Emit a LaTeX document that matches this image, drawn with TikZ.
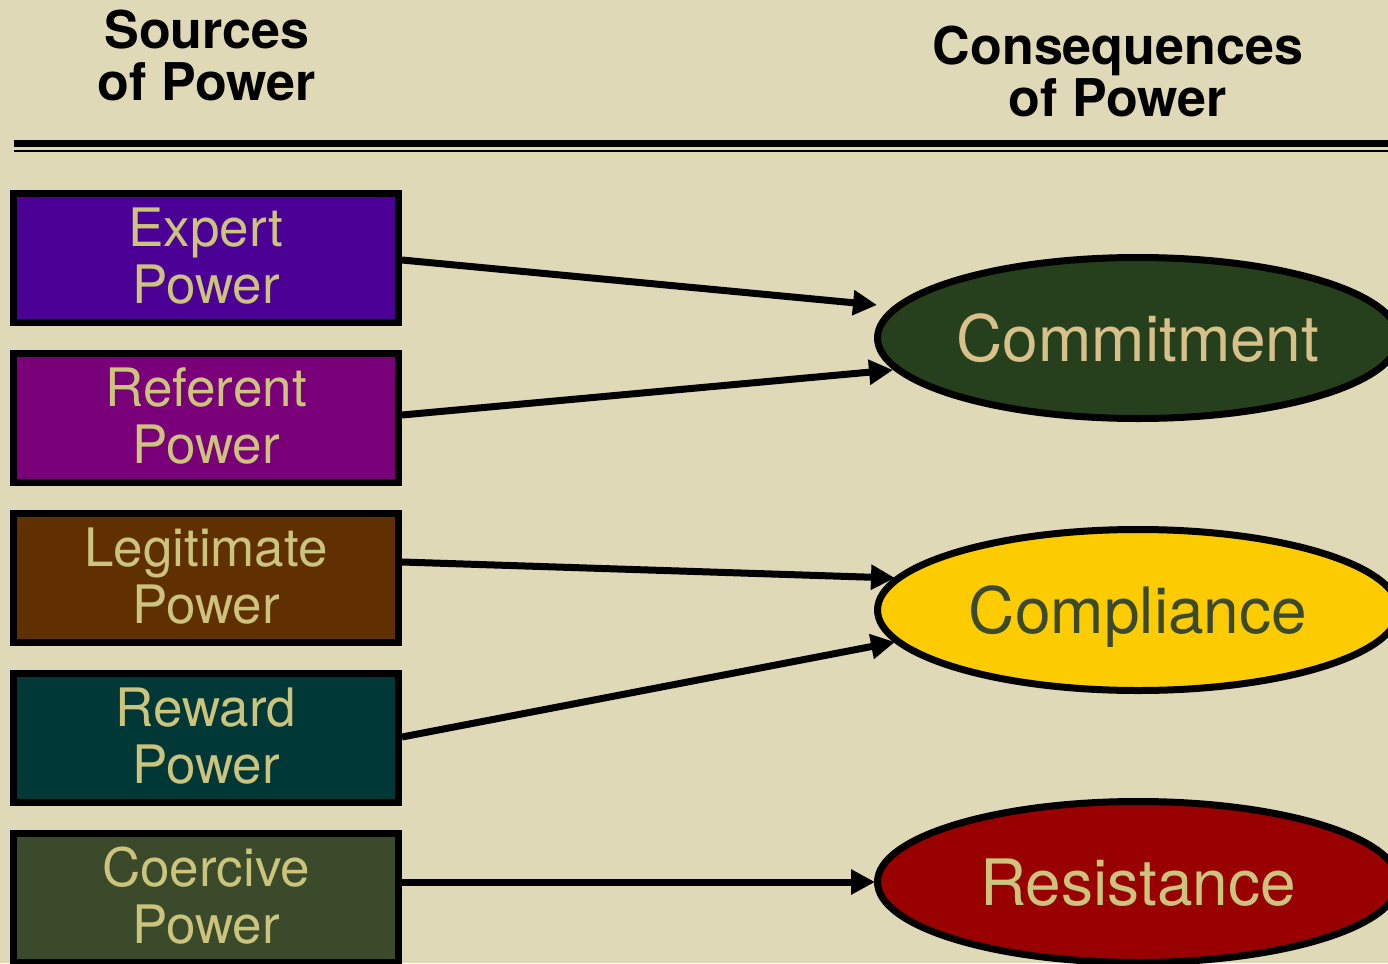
\documentclass[tikz,border=0pt]{standalone}
\usepackage{fontspec}
\setmainfont{TeX Gyre Heros}
\usetikzlibrary{shapes.geometric,arrows.meta,calc}

\definecolor{bgc}{HTML}{DFD9B7}
\definecolor{expertc}{HTML}{4B0096}
\definecolor{referentc}{HTML}{7A007A}
\definecolor{legitc}{HTML}{603000}
\definecolor{rewardc}{HTML}{003838}
\definecolor{coercivec}{HTML}{3A4A2A}
\definecolor{commitc}{HTML}{26401E}
\definecolor{complyc}{HTML}{FCCC00}
\definecolor{resistc}{HTML}{990000}
\definecolor{boxtext}{HTML}{CCC47C}
\definecolor{commtext}{HTML}{D8C08A}
\definecolor{darktext}{HTML}{3A4A2A}

\tikzset{
  title/.style={align=center, inner sep=0pt, text=black,
    font=\bfseries\fontsize{52}{52}\selectfont,
    text height=89pt, text depth=0pt},
  srcbox/.style={draw=black, line width=7pt, rectangle,
    minimum width=385pt, minimum height=129pt, inner sep=0pt,
    align=center, text=boxtext,
    font=\fontsize{53}{57}\selectfont,
    text height=95pt, text depth=4pt},
  consbox/.style={draw=black, line width=7pt, ellipse,
    minimum width=521pt, minimum height=161pt, inner sep=0pt,
    font=\fontsize{64}{64}\selectfont,
    text height=46pt, text depth=0pt},
  arr/.style={line width=7pt, -{Triangle[length=24pt,width=24pt]}},
}

\begin{document}
\begin{tikzpicture}[x=1pt, y=-1pt]
  % page and background
  \fill[bgc] (0,0) rectangle (1388,963);
  \useasboundingbox (0,0) rectangle (1388,963);

  % headings
  \node[title] (srchead) at (207,56) {Sources\\of Power};
  \node[title] (conshead) at (1118,72.5) {Consequences\\of Power};

  % double rule under the headings
  \coordinate (ruleA) at (14,143.5);
  \coordinate (ruleB) at (1388,143.5);
  \coordinate (ruleC) at (14,150.6);
  \coordinate (ruleD) at (1388,150.6);
  \draw[line width=7pt] (ruleA) -- (ruleB);
  \draw[line width=2.2pt] (ruleC) -- (ruleD);

  % sources of power
  \node[srcbox, fill=expertc]   (expert)   at (206,258) {Expert\\Power};
  \node[srcbox, fill=referentc] (referent) at (206,418) {Referent\\Power};
  \node[srcbox, fill=legitc]    (legit)    at (206,578) {Legitimate\\Power};
  \node[srcbox, fill=rewardc]   (reward)   at (206,738) {Reward\\Power};
  \node[srcbox, fill=coercivec] (coercive) at (206,898) {Coercive\\Power};

  % consequences of power
  \node[consbox, fill=commitc, text=commtext] (commit) at (1138,338) {Commitment};
  \node[consbox, fill=complyc, text=darktext] (comply) at (1138,610) {Compliance};
  \node[consbox, fill=resistc, text=boxtext]  (resist) at (1138,882) {Resistance};

  % arrow start and end points
  \coordinate (s1) at ($(expert.east)+(0,2)$);
  \coordinate (s2) at ($(referent.east)+(0,-3)$);
  \coordinate (s3) at ($(legit.east)+(0,-16)$);
  \coordinate (s4) at ($(reward.east)+(0,-1)$);
  \coordinate (s5) at ($(coercive.east)+(0,-16)$);
  \coordinate (t1) at (877,305);
  \coordinate (t2) at (893,370);
  \coordinate (t3) at (895,578);
  \coordinate (t4) at (895,642);
  \coordinate (t5) at (875,882);

  \draw[arr] (s1) -- (t1);
  \draw[arr] (s2) -- (t2);
  \draw[arr] (s3) -- (t3);
  \draw[arr] (s4) -- (t4);
  \draw[arr] (s5) -- (t5);
\end{tikzpicture}
\end{document}
